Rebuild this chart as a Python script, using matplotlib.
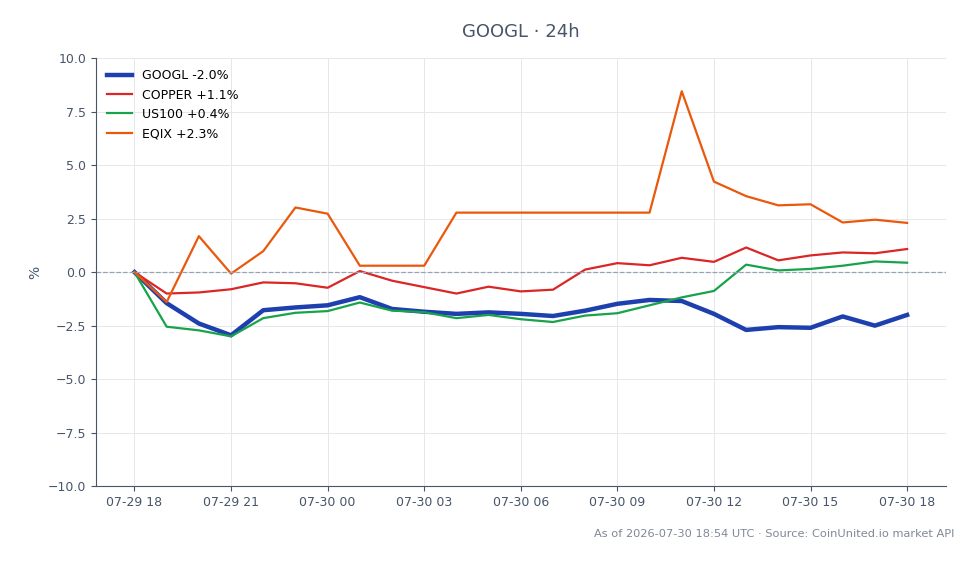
import matplotlib
matplotlib.use("Agg")
import matplotlib.pyplot as plt
import matplotlib.dates as mdates
import pandas as pd

times = pd.date_range("2026-07-29 18:00", "2026-07-30 18:00", freq="h")

googl = [0.0, -1.45, -2.4, -2.95, -1.78, -1.65, -1.55, -1.17, -1.72, -1.85, -1.95, -1.88, -1.95,
         -2.05, -1.8, -1.48, -1.3, -1.35, -1.95, -2.7, -2.57, -2.6, -2.07, -2.5, -2.0]
copper = [0.0, -1.0, -0.95, -0.8, -0.48, -0.52, -0.73, 0.05, -0.4, -0.7, -1.0, -0.68, -0.9,
          -0.82, 0.12, 0.42, 0.32, 0.67, 0.48, 1.15, 0.55, 0.78, 0.92, 0.88, 1.08]
us100 = [0.0, -2.55, -2.72, -3.0, -2.15, -1.9, -1.82, -1.42, -1.8, -1.87, -2.15, -2.0, -2.2,
         -2.33, -2.03, -1.92, -1.55, -1.18, -0.88, 0.35, 0.08, 0.15, 0.3, 0.5, 0.44]
eqix = [0.0, -1.4, 1.68, -0.07, 0.98, 3.02, 2.73, 0.3, 0.3, 0.3, 2.78, 2.78, 2.78,
        2.78, 2.78, 2.78, 2.78, 8.45, 4.23, 3.55, 3.12, 3.17, 2.32, 2.45, 2.3]

series = [
    ("GOOGL -2.0%", googl, "#1e40af", 3.2),
    ("COPPER +1.1%", copper, "#dc2626", 1.6),
    ("US100 +0.4%", us100, "#16a34a", 1.6),
    ("EQIX +2.3%", eqix, "#ea580c", 1.6),
]

fig, ax = plt.subplots(figsize=(9.78, 5.64), dpi=100)
fig.subplots_adjust(left=0.098, right=0.967, top=0.897, bottom=0.138)

for name, vals, color, lw in series:
    ax.plot(times, vals, color=color, linewidth=lw, label=name)

ax.axhline(0, color="#94a3b8", linewidth=0.9, linestyle="--")
ax.set_ylim(-10, 10)
ax.set_ylabel("%", color="#475569")
ax.set_title("GOOGL · 24h", color="#475569", fontsize=13, pad=15)

ax.xaxis.set_major_locator(mdates.HourLocator(byhour=range(0, 24, 3)))
ax.xaxis.set_major_formatter(mdates.DateFormatter("%m-%d %H"))

ax.grid(True, color="#e5e7eb", linewidth=0.7)
ax.set_axisbelow(True)
for s in ["top", "right"]:
    ax.spines[s].set_visible(False)
for s in ["left", "bottom"]:
    ax.spines[s].set_color("#475569")
ax.tick_params(colors="#475569", labelsize=9)

ax.legend(loc="upper left", frameon=False, fontsize=9)

fig.text(0.976, 0.054, "As of 2026-07-30 18:54 UTC · Source: CoinUnited.io market API",
         ha="right", va="center", fontsize=8.2, color="#808896")

fig.savefig("out.png", dpi=100)
